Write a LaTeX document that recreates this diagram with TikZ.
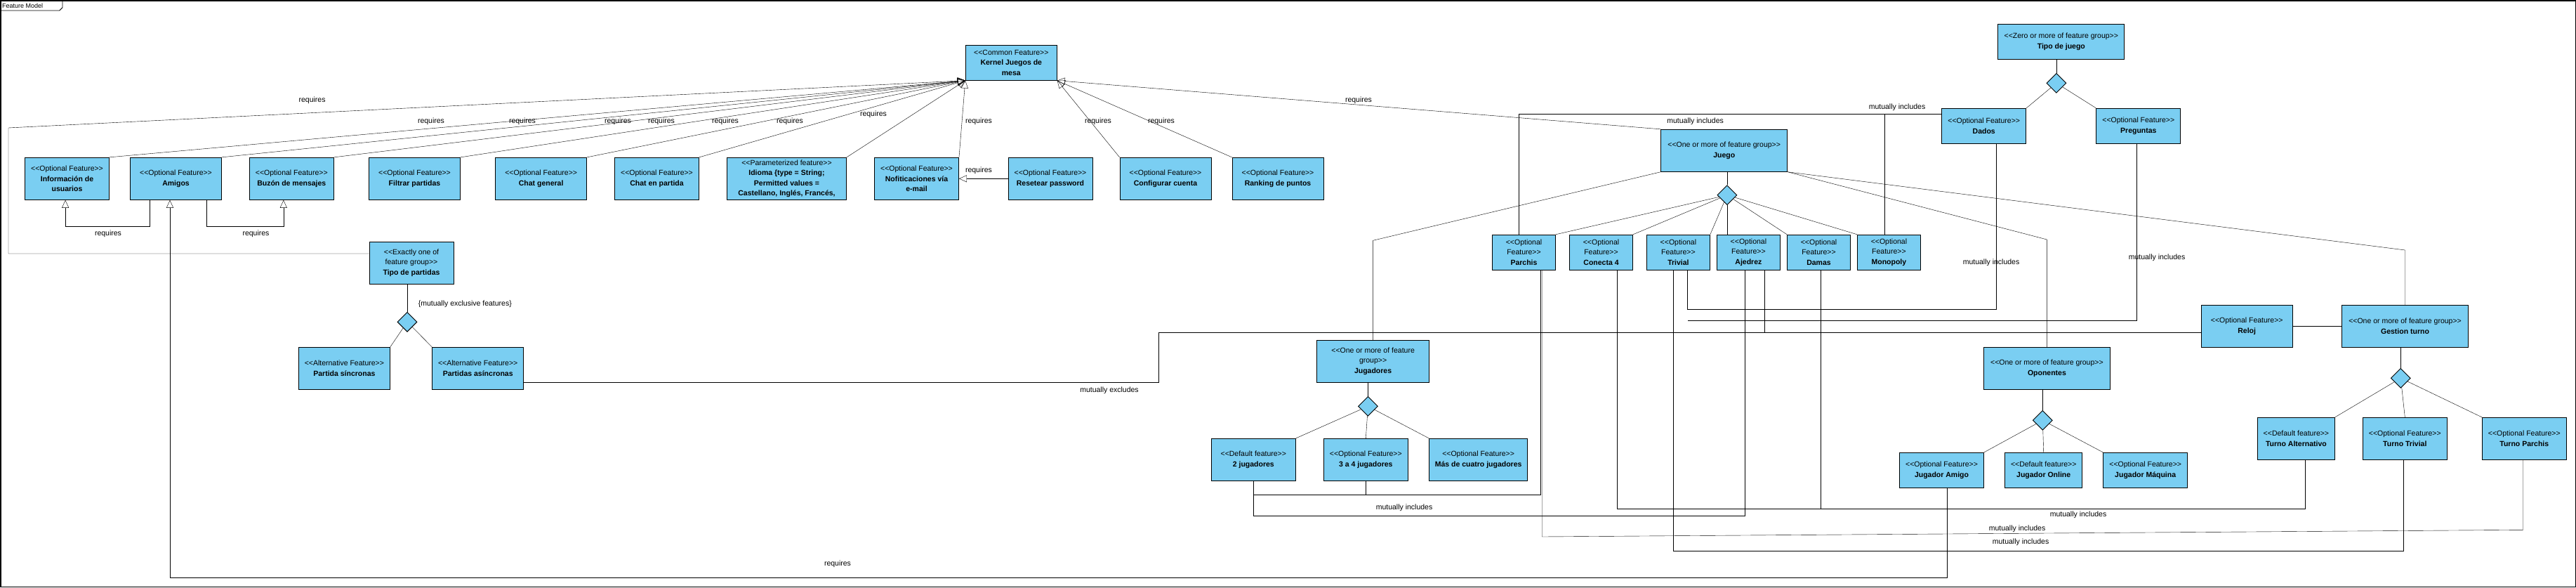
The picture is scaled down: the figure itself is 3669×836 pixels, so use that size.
\documentclass[tikz,border=0pt]{standalone}
\usepackage{fontspec}
\newfontfamily\vpfont{Liberation Sans}
\usetikzlibrary{arrows.meta,shapes.geometric}
\definecolor{FMblue}{RGB}{122,206,242}

\begin{document}
\begin{tikzpicture}[x=1pt,y=-1pt,
    feat/.style={draw,fill=FMblue,line width=0.9pt,align=center,inner sep=0pt,
      font=\vpfont\fontsize{10.5}{14.5}\selectfont},
    grpdia/.style={diamond,draw,fill=FMblue,line width=0.9pt,minimum width=28pt,minimum height=28pt,inner sep=0pt},
    req/.style={-{Triangle[open,length=11pt,width=10pt]}},
    lbl/.style={font=\vpfont\fontsize{10.5}{12}\selectfont,inner sep=1pt}]
  \useasboundingbox (0,0) rectangle (3669,836);
  \draw[line width=1.5pt] (0.75,0.75) rectangle (3668.25,835.25);
  \draw[line width=0.8pt] (0,15) -- (84.8,15) -- (89,10.7) -- (89,0);
  \node[lbl,anchor=west,font=\vpfont\fontsize{9}{10}\selectfont] (fmtab) at (2,7.8) {Feature Model};

  % kernel and first row
  \node[feat,minimum width=130,minimum height=50] (kernel) at (1440.3,89.2) {<<Common Feature>>\\\textbf{Kernel Juegos de}\\\textbf{mesa}};
  \node[feat,minimum width=120,minimum height=60] (info) at (95.5,254.3) {<<Optional Feature>>\\\textbf{Información de}\\\textbf{usuarios}};
  \node[feat,minimum width=130,minimum height=60] (amigos) at (250.5,254.3) {<<Optional Feature>>\\\textbf{Amigos}};
  \node[feat,minimum width=120,minimum height=60] (buzon) at (415.3,254.3) {<<Optional Feature>>\\\textbf{Buzón de mensajes}};
  \node[feat,minimum width=130,minimum height=60] (filtrar) at (590.5,254.3) {<<Optional Feature>>\\\textbf{Filtrar partidas}};
  \node[feat,minimum width=130,minimum height=60] (chatgen) at (770.7,254.3) {<<Optional Feature>>\\\textbf{Chat general}};
  \node[feat,minimum width=120,minimum height=60] (chatpar) at (935.5,254.3) {<<Optional Feature>>\\\textbf{Chat en partida}};
  \node[feat,minimum width=170,minimum height=60] (idioma) at (1120.5,254.3) {<<Parameterized feature>>\\\textbf{Idioma \{type = String;}\\\textbf{Permitted values =}\\\textbf{Castellano, Inglés, Francés,}};
  \node[feat,minimum width=120,minimum height=60] (notif) at (1305.5,254.3) {<<Optional Feature>>\\\textbf{Nofiticaciones vía}\\\textbf{e-mail}};
  \node[feat,minimum width=120,minimum height=60] (reset) at (1496,254.3) {<<Optional Feature>>\\\textbf{Resetear password}};
  \node[feat,minimum width=130,minimum height=60] (config) at (1660,254.3) {<<Optional Feature>>\\\textbf{Configurar cuenta}};
  \node[feat,minimum width=130,minimum height=60] (ranking) at (1820,254.3) {<<Optional Feature>>\\\textbf{Ranking de puntos}};

  % tipo de partidas
  \node[feat,minimum width=120,minimum height=60] (tipopart) at (586,374) {<<Exactly one of\\feature group>>\\\textbf{Tipo de partidas}};
  \node[grpdia] (tpdia) at (580,458.3) {};
  \node[feat,minimum width=130,minimum height=60] (psinc) at (490.4,524.3) {<<Alternative Feature>>\\\textbf{Partida síncronas}};
  \node[feat,minimum width=130,minimum height=60] (pasinc) at (680.7,524.3) {<<Alternative Feature>>\\\textbf{Partidas asíncronas}};
  \node[lbl] (mexcl) at (662.3,432.3) {\{mutually exclusive features\}};

  % tipo de juego
  \node[feat,minimum width=180,minimum height=50] (tjuego) at (2935.8,59.3) {<<Zero or more of feature group>>\\\textbf{Tipo de juego}};
  \node[grpdia] (tjdia) at (2928.9,118.3) {};
  \node[feat,minimum width=120,minimum height=50] (dados) at (2825.7,179.3) {<<Optional Feature>>\\\textbf{Dados}};
  \node[feat,minimum width=120,minimum height=50] (preguntas) at (3045.8,179.3) {<<Optional Feature>>\\\textbf{Preguntas}};

  % juego
  \node[feat,minimum width=180,minimum height=60] (juego) at (2455.7,214.3) {<<One or more of feature group>>\\\textbf{Juego}};
  \node[grpdia] (jgdia) at (2459.9,277.7) {};
  \foreach \n/\x/\t in {parchis/2170.5/Parchis,conecta/2280.5/Conecta 4,trivial/2390.4/Trivial,
      ajedrez/2490.4/Ajedrez,damas/2590.5/Damas,monopoly/2690.4/Monopoly}
    \node[feat,minimum width=90,minimum height=50] (\n) at (\x,359.2) {<<Optional\\Feature>>\\\textbf{\t}};

  % jugadores
  \node[feat,minimum width=160,minimum height=60] (jugadores) at (1955.6,514.3) {<<One or more of feature\\group>>\\\textbf{Jugadores}};
  \node[grpdia] (jugdia) at (1948.4,578.3) {};
  \node[feat,minimum width=120,minimum height=60] (dosjug) at (1785.3,654.3) {<<Default feature>>\\\textbf{2 jugadores}};
  \node[feat,minimum width=120,minimum height=60] (tresjug) at (1945.3,654.3) {<<Optional Feature>>\\\textbf{3 a 4 jugadores}};
  \node[feat,minimum width=140,minimum height=60] (masjug) at (2105.6,654.3) {<<Optional Feature>>\\\textbf{Más de cuatro jugadores}};

  % oponentes
  \node[feat,minimum width=180,minimum height=60] (oponentes) at (2915.4,524.3) {<<One or more of feature group>>\\\textbf{Oponentes}};
  \node[grpdia] (opdia) at (2909.3,598.3) {};
  \node[feat,minimum width=120,minimum height=50] (jamigo) at (2765.5,669.3) {<<Optional Feature>>\\\textbf{Jugador Amigo}};
  \node[feat,minimum width=110,minimum height=50] (jonline) at (2910.7,669.3) {<<Default feature>>\\\textbf{Jugador Online}};
  \node[feat,minimum width=120,minimum height=50] (jmaq) at (3055.7,669.3) {<<Optional Feature>>\\\textbf{Jugador Máquina}};

  % turnos
  \node[feat,minimum width=130,minimum height=60] (reloj) at (3200.2,464.3) {<<Optional Feature>>\\\textbf{Reloj}};
  \node[feat,minimum width=180,minimum height=60] (gestion) at (3425.5,464.3) {<<One or more of feature group>>\\\textbf{Gestion turno}};
  \node[grpdia] (gtdia) at (3419.3,538.3) {};
  \node[feat,minimum width=110,minimum height=60] (talt) at (3270.4,624.3) {<<Default feature>>\\\textbf{Turno Alternativo}};
  \node[feat,minimum width=120,minimum height=60] (ttrivial) at (3425.3,624.3) {<<Optional Feature>>\\\textbf{Turno Trivial}};
  \node[feat,minimum width=120,minimum height=60] (tparchis) at (3595.3,624.3) {<<Optional Feature>>\\\textbf{Turno Parchis}};

  % group links
  \draw (tipopart.south -| tpdia) -- (tpdia.north);
  \draw (tpdia) -- (psinc.north east);
  \draw (tpdia) -- (pasinc.north west);
  \draw (tjuego.south -| tjdia) -- (tjdia.north);
  \draw (tjdia) -- (dados.north east);
  \draw (tjdia) -- (preguntas.north west);
  \draw (juego.south -| jgdia) -- (jgdia.north);
  \foreach \n in {parchis,conecta,trivial} \draw (jgdia) -- (\n.north east);
  \draw (jgdia.south) -- (jgdia |- ajedrez.north);
  \foreach \n in {damas,monopoly} \draw (jgdia) -- (\n.north west);
  \draw (juego.south west) -- (jugadores.north |- 0,342.3) -- (jugadores.north);
  \draw (juego.south east) -- (oponentes.north |- 0,341) -- (oponentes.north);
  \draw (juego.south east) -- (gestion.north |- 0,356) -- (gestion.north);
  \draw (jugadores.south -| jugdia) -- (jugdia.north);
  \draw (jugdia) -- (dosjug.north east);
  \draw (jugdia) -- (tresjug.north);
  \draw (jugdia) -- (masjug.north west);
  \draw (oponentes.south -| opdia) -- (opdia.north);
  \draw (opdia) -- (jamigo.north east);
  \draw (opdia) -- (jonline.north);
  \draw (opdia) -- (jmaq.north west);
  \draw (gestion.south -| gtdia) -- (gtdia.north);
  \draw (gtdia) -- (talt.north east);
  \draw (gtdia) -- (ttrivial.north);
  \draw (gtdia) -- (tparchis.north west);
  \draw (reloj.east) -- (gestion.west);

  % requires
  \foreach \f/\lx/\ly in {info/614/172.7,amigos/744/172.7,buzon/880/172.7,filtrar/942/172.7,
      chatgen/1033/172.7,chatpar/1125/172.7,idioma/1244/162.7,notif/1394/172.7}{
    \draw[req] (\f.north east) -- (kernel.south west);
    \node[lbl] (r\f) at (\lx,\ly) {requires};
  }
  \foreach \f/\lx/\ly in {config/1564/172.5,ranking/1654/172.5,juego/1935/142.7}{
    \draw[req] (\f.north west) -- (kernel.south east);
    \node[lbl] (r\f) at (\lx,\ly) {requires};
  }
  \draw[req] ([yshift=13pt]tipopart.west) -- (12,361) -- (12,182) -- (kernel.south west);
  \node[lbl] (rtipopart) at (444.6,142.7) {requires};
  \draw[req] ([xshift=-37pt]amigos.south) -- ++(0,37.4) -| ([xshift=-2.4pt]info.south);
  \node[lbl] (rinfo2) at (154,332.7) {requires};
  \draw[req] ([xshift=43.5pt]amigos.south) -- ++(0,37.4) -| ([xshift=-11.5pt]buzon.south);
  \node[lbl] (rbuzon2) at (364.5,332.7) {requires};
  \draw[req] (reset.west) -- (notif.east);
  \node[lbl] (rnotif2) at (1394,242.7) {requires};
  \draw[req] ([xshift=7.8pt]jamigo.south) |- (242,822.3) -- ([xshift=-8.5pt]amigos.south);
  \node[lbl] (rjamigo) at (1193,803) {requires};

  % mutually includes / excludes
  \draw ([xshift=-7.5pt]parchis.north) |- ([yshift=17pt]dados.west);
  \node[lbl] (mi1) at (2414.6,172.7) {mutually includes};
  \draw ([xshift=-6.7pt]monopoly.north) -- ([xshift=-6.7pt]monopoly.north |- 0,162.3);
  \node[lbl] (mi2) at (2702,152.7) {mutually includes};
  \draw (dosjug.south) |- ([xshift=24pt]parchis.south |- 0,704.3) -- ([xshift=24pt]parchis.south);
  \draw (tresjug.south) -- (tresjug.south |- 0,704.3);
  \draw (dosjug.south) |- ([xshift=-4.8pt]ajedrez.south |- 0,734.3) -- ([xshift=-4.8pt]ajedrez.south);
  \node[lbl] (mi3) at (2000,722.7) {mutually includes};
  \draw ([xshift=25.7pt]parchis.south) -- (2196.2,764) -- (3593.5,754.3) -- ([xshift=-1.8pt]tparchis.south);
  \node[lbl] (mi4) at (2873,752.7) {mutually includes};
  \draw ([xshift=22.6pt]conecta.south) |- ([xshift=12.8pt]talt.south |- 0,724.3) -- ([xshift=12.8pt]talt.south);
  \draw ([xshift=2.9pt]damas.south) -- ([xshift=2.9pt]damas.south |- 0,724.3);
  \node[lbl] (mi5) at (2960,732.3) {mutually includes};
  \draw ([xshift=-7.2pt]trivial.south) |- ([xshift=-2pt]ttrivial.south |- 0,784.3) -- ([xshift=-2pt]ttrivial.south);
  \node[lbl] (mi6) at (2878,772) {mutually includes};
  \draw ([xshift=23pt]ajedrez.south) -- ([xshift=23pt]ajedrez.south |- 0,472.7);
  \draw ([xshift=17.8pt]dados.south) |- ([xshift=13.1pt]trivial.south |- 0,440) -- ([xshift=13.1pt]trivial.south);
  \node[lbl] (mi7) at (2836,374) {mutually includes};
  \draw ([xshift=-2.5pt]preguntas.south) |- ([xshift=13.1pt]trivial.south |- 0,456);
  \node[lbl] (mi8) at (3072,367) {mutually includes};
  \draw ([yshift=-8.4pt]reloj.west) -- (1650,472.7) |- ([yshift=-20pt]pasinc.east);
  \node[lbl] (mex) at (1580,556) {mutually excludes};
\end{tikzpicture}
\end{document}
